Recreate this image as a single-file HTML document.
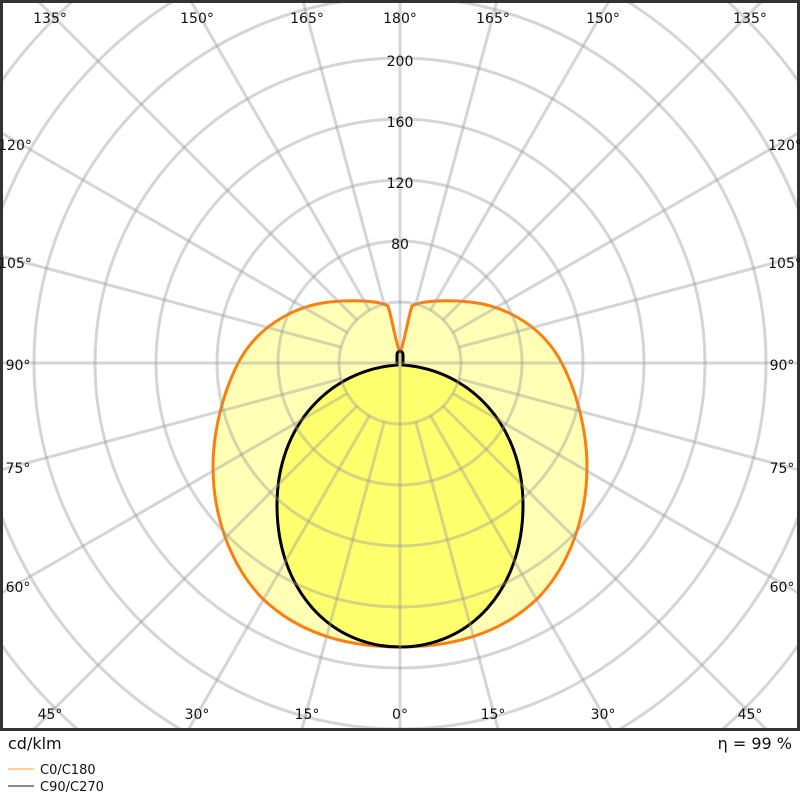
<!DOCTYPE html>
<html><head><style>
html,body{margin:0;padding:0;background:#fff;width:800px;height:800px;overflow:hidden;}
svg{display:block;}
text{font-family:"DejaVu Sans","Liberation Sans",sans-serif;font-size:14px;fill:#111;}
</style></head><body>
<svg width="800" height="800" viewBox="0 0 800 800">
<defs><clipPath id="c"><rect x="0" y="0" width="800" height="730"/></clipPath></defs>
<g clip-path="url(#c)">
<path d="M400,352 C396,345 393,322 388,306 C378,300 350,300 330,302 C300,305 262,322 241,358 C224,388 213,430 213,467 C213,515 230,565 262,598 C300,635 350,647 400,647 C450,647 500,635 538,598 C570,565 587,515 587,467 C587,430 576,388 559,358 C538,322 500,305 470,302 C450,300 422,300 412,306 C407,322 404,345 400,352 Z" fill="rgba(255,255,120,0.55)" stroke="#ff7f0e" stroke-width="3"/>
<path d="M397,365 C330,370 277,425 277,505 C277,590 330,647 400,647 C470,647 523,590 523,505 C523,425 470,370 403,365 L403,355 C403,350 397,350 397,355 Z" fill="rgba(255,255,80,0.7)" stroke="#000" stroke-width="3"/>
<g stroke="rgba(150,150,150,0.4)" stroke-width="3" fill="none">
<circle cx="400" cy="363" r="61"/><circle cx="400" cy="363" r="122"/><circle cx="400" cy="363" r="183"/>
<circle cx="400" cy="363" r="244"/><circle cx="400" cy="363" r="305"/><circle cx="400" cy="363" r="366"/>
<circle cx="400" cy="363" r="427"/><circle cx="400" cy="363" r="488"/><circle cx="400" cy="363" r="549"/>
<line x1="400" y1="-237" x2="400" y2="963"/>
<line x1="-200" y1="363" x2="1000" y2="363"/>
<line x1="415.8" y1="421.9" x2="555.3" y2="942.6"/><line x1="384.2" y1="304.1" x2="244.7" y2="-216.6"/>
<line x1="430.5" y1="415.8" x2="700" y2="882.6"/><line x1="369.5" y1="310.2" x2="100" y2="-156.6"/>
<line x1="443.1" y1="406.1" x2="824.3" y2="787.3"/><line x1="356.9" y1="319.9" x2="-24.3" y2="-61.3"/>
<line x1="452.8" y1="393.5" x2="919.6" y2="663"/><line x1="347.2" y1="332.5" x2="-119.6" y2="63"/>
<line x1="458.9" y1="378.8" x2="979.6" y2="518.3"/><line x1="341.1" y1="347.2" x2="-179.6" y2="207.7"/>
<line x1="458.9" y1="347.2" x2="979.6" y2="207.7"/><line x1="341.1" y1="378.8" x2="-179.6" y2="518.3"/>
<line x1="452.8" y1="332.5" x2="919.6" y2="63"/><line x1="347.2" y1="393.5" x2="-119.6" y2="663"/>
<line x1="443.1" y1="319.9" x2="824.3" y2="-61.3"/><line x1="356.9" y1="406.1" x2="-24.3" y2="787.3"/>
<line x1="430.5" y1="310.2" x2="700" y2="-156.6"/><line x1="369.5" y1="415.8" x2="100" y2="882.6"/>
<line x1="415.8" y1="304.1" x2="555.3" y2="-216.6"/><line x1="384.2" y1="421.9" x2="244.7" y2="942.6"/>
</g>
</g>
<rect x="1.5" y="1.5" width="797" height="728" fill="none" stroke="#333" stroke-width="3"/>
<g text-anchor="middle">
<text x="50" y="23">135°</text><text x="197" y="23">150°</text><text x="307" y="23">165°</text><text x="400" y="23">180°</text>
<text x="493" y="23">165°</text><text x="603" y="23">150°</text><text x="750" y="23">135°</text>
<text x="50" y="719">45°</text><text x="197" y="719">30°</text><text x="307" y="719">15°</text><text x="400" y="719">0°</text>
<text x="493" y="719">15°</text><text x="603" y="719">30°</text><text x="750" y="719">45°</text>
<text x="15" y="150">120°</text><text x="15" y="268">105°</text><text x="18" y="370">90°</text><text x="18" y="473">75°</text><text x="18" y="592">60°</text>
<text x="785" y="150">120°</text><text x="785" y="268">105°</text><text x="782" y="370">90°</text><text x="782" y="473">75°</text><text x="782" y="592">60°</text>
<text x="400" y="249">80</text><text x="400" y="188">120</text><text x="400" y="127">160</text><text x="400" y="66">200</text>
</g>
<text x="8" y="749" style="font-size:16px">cd/klm</text>
<text x="792" y="749" text-anchor="end" style="font-size:16px">η = 99 %</text>
<line x1="8" y1="769" x2="34" y2="769" stroke="#ffbf80" stroke-width="1.5"/>
<text x="40" y="774" style="font-size:13px">C0/C180</text>
<line x1="8" y1="786" x2="34" y2="786" stroke="#666" stroke-width="1.5"/>
<text x="40" y="791" style="font-size:13px">C90/C270</text>
</svg>
</body></html>
